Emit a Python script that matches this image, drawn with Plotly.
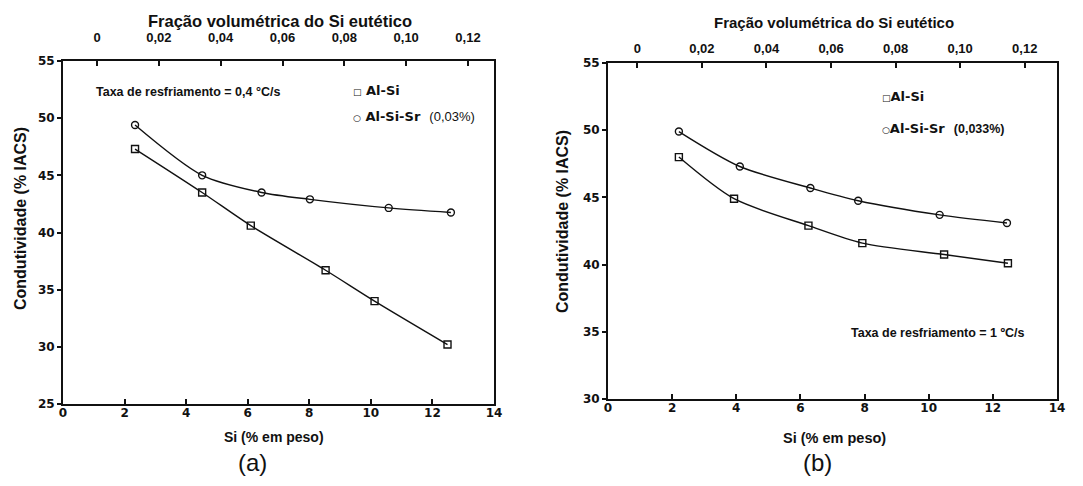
import plotly.graph_objects as go

# ---- data ----
a_si_x = [2.34, 4.52, 6.1, 8.53, 10.12, 12.49]
a_si_y = [47.3, 43.5, 40.6, 36.7, 34.0, 30.2]
a_sr_x = [2.34, 4.52, 6.45, 8.02, 10.58, 12.6]
a_sr_y = [49.4, 45.0, 43.5, 42.9, 42.15, 41.75]

b_si_x = [2.21, 3.93, 6.25, 7.93, 10.48, 12.47]
b_si_y = [48.0, 44.9, 42.9, 41.6, 40.75, 40.1]
b_sr_x = [2.21, 4.11, 6.31, 7.8, 10.34, 12.44]
b_sr_y = [49.9, 47.3, 45.7, 44.75, 43.7, 43.1]

bottom_ticks = [0, 2, 4, 6, 8, 10, 12, 14]
top_tickvals = [0, 0.02, 0.04, 0.06, 0.08, 0.10, 0.12]
top_ticktext = ["0", "0,02", "0,04", "0,06", "0,08", "0,10", "0,12"]
a_yticks = [25, 30, 35, 40, 45, 50, 55]
b_yticks = [30, 35, 40, 45, 50, 55]

# the page body keeps an 8px margin around the figure
OFF = 8
W, H = 1083 - 2 * OFF, 486 - 2 * OFF
INK = "#111111"
FONT = "Liberation Sans"
OLD = "DejaVu Sans"

def px(x):
    return (x - OFF) / W

def py(y):
    return (H - (y - OFF)) / H

fig = go.Figure()

def add_series(x, y, sym, xa, ya):
    fig.add_trace(go.Scatter(
        x=x, y=y, mode="lines+markers", xaxis=xa, yaxis=ya,
        line=dict(color=INK, width=1.4, shape="spline", smoothing=0.8),
        marker=dict(symbol=sym, size=7, color=INK, line=dict(color=INK, width=1.4)),
        showlegend=False, hoverinfo="skip"))

add_series(a_si_x, a_si_y, "square-open", "x", "y")
add_series(a_sr_x, a_sr_y, "circle-open", "x", "y")
add_series(b_si_x, b_si_y, "square-open", "x2", "y2")
add_series(b_sr_x, b_sr_y, "circle-open", "x2", "y2")

# invisible carriers so the top (volume fraction) axes are drawn
for xa, ya, yt in (("x3", "y", a_yticks), ("x4", "y2", b_yticks)):
    fig.add_trace(go.Scatter(
        x=top_tickvals, y=[yt[0]] * len(top_tickvals), xaxis=xa, yaxis=ya,
        mode="markers", marker=dict(opacity=0, size=1), showlegend=False,
        hoverinfo="skip"))

tickfont = dict(family=OLD, size=12, color=INK, weight="bold")
topfont = dict(family=FONT, size=13, color=INK, weight="bold")

common_x = dict(range=[0, 14], tickvals=bottom_ticks, ticks="inside", ticklen=5,
                tickwidth=1.5, tickcolor=INK, showline=True, linecolor=INK, linewidth=2,
                mirror=True, showgrid=False, zeroline=False, tickfont=tickfont,
                ticklabelstandoff=-3, automargin=False)
common_y = dict(ticks="outside", ticklen=4, tickwidth=1.5, tickcolor=INK, showline=True,
                linecolor=INK, linewidth=2, mirror=True, showgrid=False, zeroline=False,
                tickfont=tickfont, ticklabelstandoff=0, automargin=False)

dom_ax = [px(63), px(494)]
dom_ay = [py(404), py(61)]
dom_bx = [px(608), px(1057)]
dom_by = [py(399), py(63)]

fig.update_layout(
    width=W, height=H, margin=dict(l=0, r=0, t=0, b=0, pad=0, autoexpand=False),
    paper_bgcolor="white", plot_bgcolor="white",
    xaxis=dict(domain=dom_ax, anchor="y", **common_x),
    yaxis=dict(domain=dom_ay, anchor="x", range=[25, 55], tickvals=a_yticks, **common_y),
    xaxis2=dict(domain=dom_bx, anchor="y2", **common_x),
    yaxis2=dict(domain=dom_by, anchor="x2", range=[30, 55], tickvals=b_yticks, **common_y),
    xaxis3=dict(overlaying="x", side="top", anchor="y", range=[-0.011, 0.1284],
                tickvals=top_tickvals, ticktext=top_ticktext, ticks="inside", ticklen=5,
                tickwidth=1.5, tickcolor=INK, showline=False, showgrid=False,
                zeroline=False, tickfont=topfont, ticklabelstandoff=15, automargin=False),
    xaxis4=dict(overlaying="x2", side="top", anchor="y2", range=[-0.0091, 0.13],
                tickvals=top_tickvals, ticktext=top_ticktext, ticks="inside", ticklen=5,
                tickwidth=1.5, tickcolor=INK, showline=False, showgrid=False,
                zeroline=False, tickfont=topfont, ticklabelstandoff=6, automargin=False),
)

def ann(text, x, y, size=14, bold=True, angle=0, xanchor="center", family=FONT):
    t = f"<b>{text}</b>" if bold else text
    fig.add_annotation(text=t, x=px(x), y=py(y), xref="paper", yref="paper",
                       showarrow=False, xanchor=xanchor, yanchor="middle",
                       textangle=angle, font=dict(family=family, size=size, color=INK))

# titles
ann("Fração volumétrica do Si eutético", 280, 21, 16.5)
ann("Fração volumétrica do Si eutético", 834, 23, 15)
ann("Condutividade (% IACS)", 20, 219, 16, angle=-90)
ann("Condutividade (% IACS)", 562, 222, 16, angle=-90)
ann("Si (% em peso)", 274, 437, 14)
ann("Si (% em peso)", 834, 438, 14.5)
ann("(a)", 253, 462, 24, bold=False)
ann("(b)", 817, 462, 24, bold=False)

SMALL = "<span style='font-size:9px'>{}</span>"

# in-plot texts (a)
ann("Taxa de resfriamento = 0,4 °C/s", 94, 92, 12.5, xanchor="left")
ann(SMALL.format("□") + " Al-Si", 351, 91, 13, xanchor="left", family=OLD)
ann(SMALL.format("○") + " Al-Si-Sr  <span style='font-family:Liberation Sans;font-weight:normal;font-size:13px'>(0,03%)</span>",
    351, 117, 13, xanchor="left", family=OLD)

# in-plot texts (b)
ann(SMALL.format("□") + "Al-Si", 880, 96, 13, xanchor="left", family=OLD)
ann(SMALL.format("○") + "Al-Si-Sr  <span style='font-family:Liberation Sans;font-size:12.5px'>(0,033%)</span>",
    880, 128, 13, xanchor="left", family=OLD)
ann("Taxa de resfriamento = 1 ºC/s", 849, 333, 12.5, xanchor="left")

fig.write_html("out.html")
